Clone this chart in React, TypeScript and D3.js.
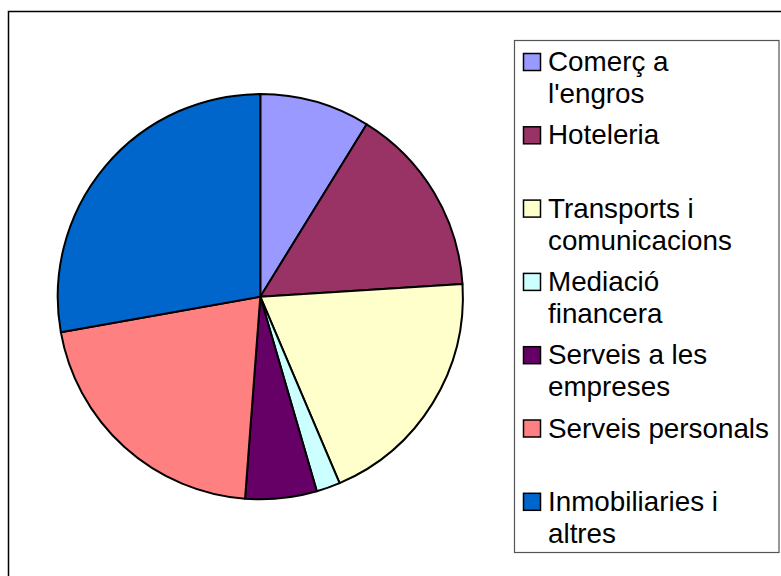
import React, { useRef, useEffect } from 'react';
import * as d3 from 'd3';

// sector labels, as they wrap in the legend
const categories: string[][] = [
    ["Comerç a", "l'engros"],
    ["Hoteleria"],
    ["Transports i", "comunicacions"],
    ["Mediació", "financera"],
    ["Serveis a les", "empreses"],
    ["Serveis personals"],
    ["Inmobiliaries i", "altres"],
];
const shares = [8.8, 15.2, 19.6, 1.9, 5.7, 21.0, 27.8];
const colors = ["#9999FF", "#993366", "#FFFFCC", "#CCFFFF", "#660066", "#FF8080", "#0066CC"];

const W = 781;
const H = 576;

const App: React.FC = () => {
    const ref = useRef<SVGSVGElement>(null);

    useEffect(() => {
        if (!ref.current) return;
        const svg = d3.select(ref.current);
        svg.selectAll("*").remove();

        // outer chart frame
        svg.append("rect")
            .attr("x", 8.5).attr("y", 11.5)
            .attr("width", 790).attr("height", 590)
            .attr("fill", "#fff")
            .attr("stroke", "#000").attr("stroke-width", 1.5);

        const cx = 260.3, cy = 296.7, radius = 202.6;
        const pie = d3.pie<number>().sort(null).value(d => d);
        const arc = d3.arc<d3.PieArcDatum<number>>().innerRadius(0).outerRadius(radius);

        svg.append("g")
            .attr("transform", `translate(${cx}, ${cy})`)
            .selectAll("path")
            .data(pie(shares))
            .enter()
            .append("path")
            .attr("d", arc)
            .attr("fill", (d, i) => colors[i])
            .attr("stroke", "#000")
            .attr("stroke-width", 2)
            .attr("stroke-linejoin", "round");

        // legend
        svg.append("rect")
            .attr("x", 514.5).attr("y", 40.5)
            .attr("width", 264.5).attr("height", 512)
            .attr("fill", "#fff")
            .attr("stroke", "#555").attr("stroke-width", 1.2);

        const step = 73.3;
        const items = svg.append("g")
            .selectAll("g")
            .data(categories)
            .enter()
            .append("g")
            .attr("transform", (d, i) => `translate(0, ${71 + i * step})`);

        items.append("rect")
            .attr("x", 523.5).attr("y", -17.5)
            .attr("width", 17).attr("height", 17)
            .attr("fill", (d, i) => colors[i])
            .attr("stroke", "#000").attr("stroke-width", 1.5);

        items.append("text")
            .attr("x", 548)
            .attr("font-family", "Liberation Sans, Arial, sans-serif")
            .attr("font-size", 27.8)
            .attr("fill", "#000")
            .selectAll("tspan")
            .data(d => d)
            .enter()
            .append("tspan")
            .attr("x", 548)
            .attr("y", (d, j) => j * 32)
            .text(d => d);
    }, []);

    return <svg ref={ref} width={W} height={H} style={{ position: 'absolute', left: 0, top: 0 }}></svg>;
};

export default App;
